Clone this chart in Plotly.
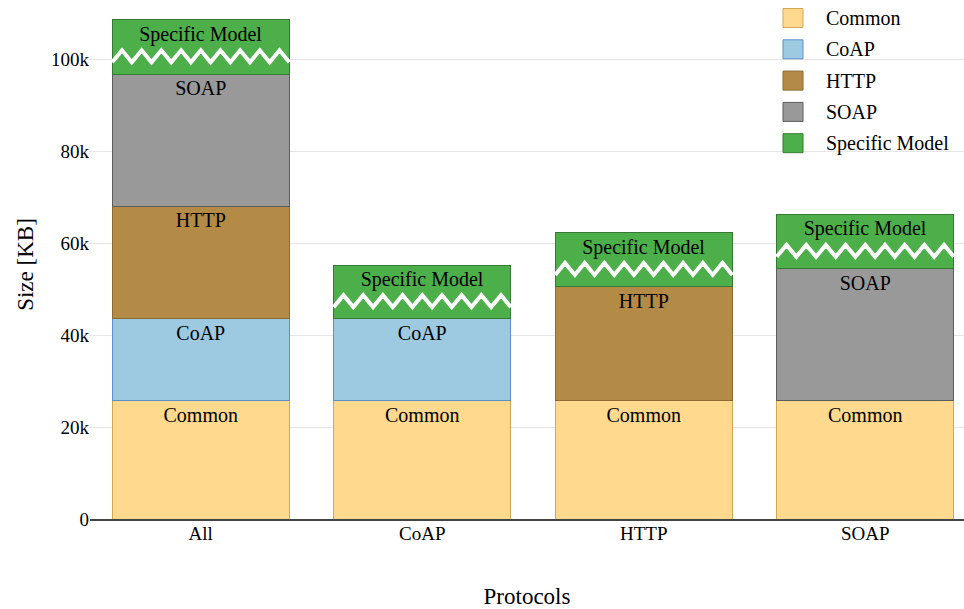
import plotly.graph_objects as go

# ---- data ----
categories = ["All", "CoAP", "HTTP", "SOAP"]
series_names = ["Common", "CoAP", "HTTP", "SOAP", "Specific Model"]
common = [25700, 25700, 25700, 25700]
coap = [17800, 17800, 0, 0]
http = [24500, 0, 24800, 0]
soap = [28700, 0, 0, 28700]
specific = [11800, 11700, 11700, 11800]
values = [common, coap, http, soap, specific]

fills = ["#FED98E", "#9ECAE1", "#B38B47", "#999999", "#4DAF4A"]
outlines = ["#D2A857", "#5F8FC8", "#8A6A30", "#5C5C5C", "#357A33"]

FONT = "Liberation Serif, Times New Roman, serif"
W, H = 964, 609
ML, MR, MT, MB = 90, 0, 10, 90
PW, PH = W - ML - MR, H - MT - MB
CAT_PX = 221.5
BAR_W = 0.8
YMAX = (H - MB - MT) / 4.6 * 1000

x_idx = list(range(len(categories)))
fig = go.Figure()

for name, vals, fc, lc in zip(series_names, values, fills, outlines):
    fig.add_trace(go.Bar(
        x=x_idx, y=vals, name=name, width=BAR_W,
        marker=dict(color=fc, line=dict(color=lc, width=1)),
        text=[name if v > 0 else "" for v in vals],
        textposition="inside", insidetextanchor="end", textangle=0,
        constraintext="none",
        textfont=dict(family=FONT, size=20, color="black"),
        showlegend=False,
    ))

# zigzag break markers inside the Specific Model segment
for i in x_idx:
    base = common[i] + coap[i] + http[i] + soap[i]
    center = base + specific[i] * 0.33
    amp = 1300
    n = 18
    xs, ys = [], []
    for k in range(n + 1):
        xs.append(i - BAR_W / 2 + BAR_W * k / n)
        ys.append(center - amp if k % 2 == 0 else center + amp)
    fig.add_trace(go.Scatter(x=xs, y=ys, mode="lines",
                             line=dict(color="white", width=4),
                             hoverinfo="skip", showlegend=False))

# manual legend
shapes = []
annotations = []
def px_x(p):
    return (p - ML) / PW
def px_y(p):
    return (H - MB - p) / PH

shapes.append(dict(type="rect", xref="paper", yref="paper",
                   x0=px_x(823), x1=px_x(964), y0=px_y(160), y1=px_y(0),
                   fillcolor="white", line=dict(width=0), layer="below"))
for j, (name, fc, lc) in enumerate(zip(series_names, fills, outlines)):
    cy = 18 + j * 31.3
    shapes.append(dict(type="rect", xref="paper", yref="paper",
                       x0=px_x(783), x1=px_x(803),
                       y0=px_y(cy + 9.5), y1=px_y(cy - 9.5),
                       fillcolor=fc, line=dict(color=lc, width=1)))
    annotations.append(dict(xref="paper", yref="paper", x=px_x(824), y=px_y(cy),
                            text=name, showarrow=False, xanchor="left", yanchor="middle",
                            font=dict(family=FONT, size=20, color="black")))

fig.update_layout(
    width=W, height=H,
    margin=dict(l=ML, r=MR, t=MT, b=MB),
    plot_bgcolor="white", paper_bgcolor="white",
    barmode="stack",
    font=dict(family=FONT, size=19, color="black"),
    shapes=shapes, annotations=annotations,
    xaxis=dict(
        range=[-0.5, -0.5 + PW / CAT_PX],
        tickvals=x_idx, ticktext=categories,
        showgrid=False, zeroline=False,
        showline=True, linecolor="#444", linewidth=2,
        ticks="", tickfont=dict(family=FONT, size=19),
        ticklabelstandoff=-4,
        title=dict(text="Protocols", font=dict(family=FONT, size=23), standoff=45),
    ),
    yaxis=dict(
        range=[0, YMAX], dtick=20000, tickformat="~s",
        showgrid=True, gridcolor="#E6E6E6", gridwidth=1,
        zeroline=False, ticks="",
        tickfont=dict(family=FONT, size=19),
        title=dict(text="Size [KB]", font=dict(family=FONT, size=23), standoff=10),
    ),
)

fig.write_html("out.html", config={"displayModeBar": False},
               post_script="document.body.style.margin='0';document.body.style.overflow='hidden';")
